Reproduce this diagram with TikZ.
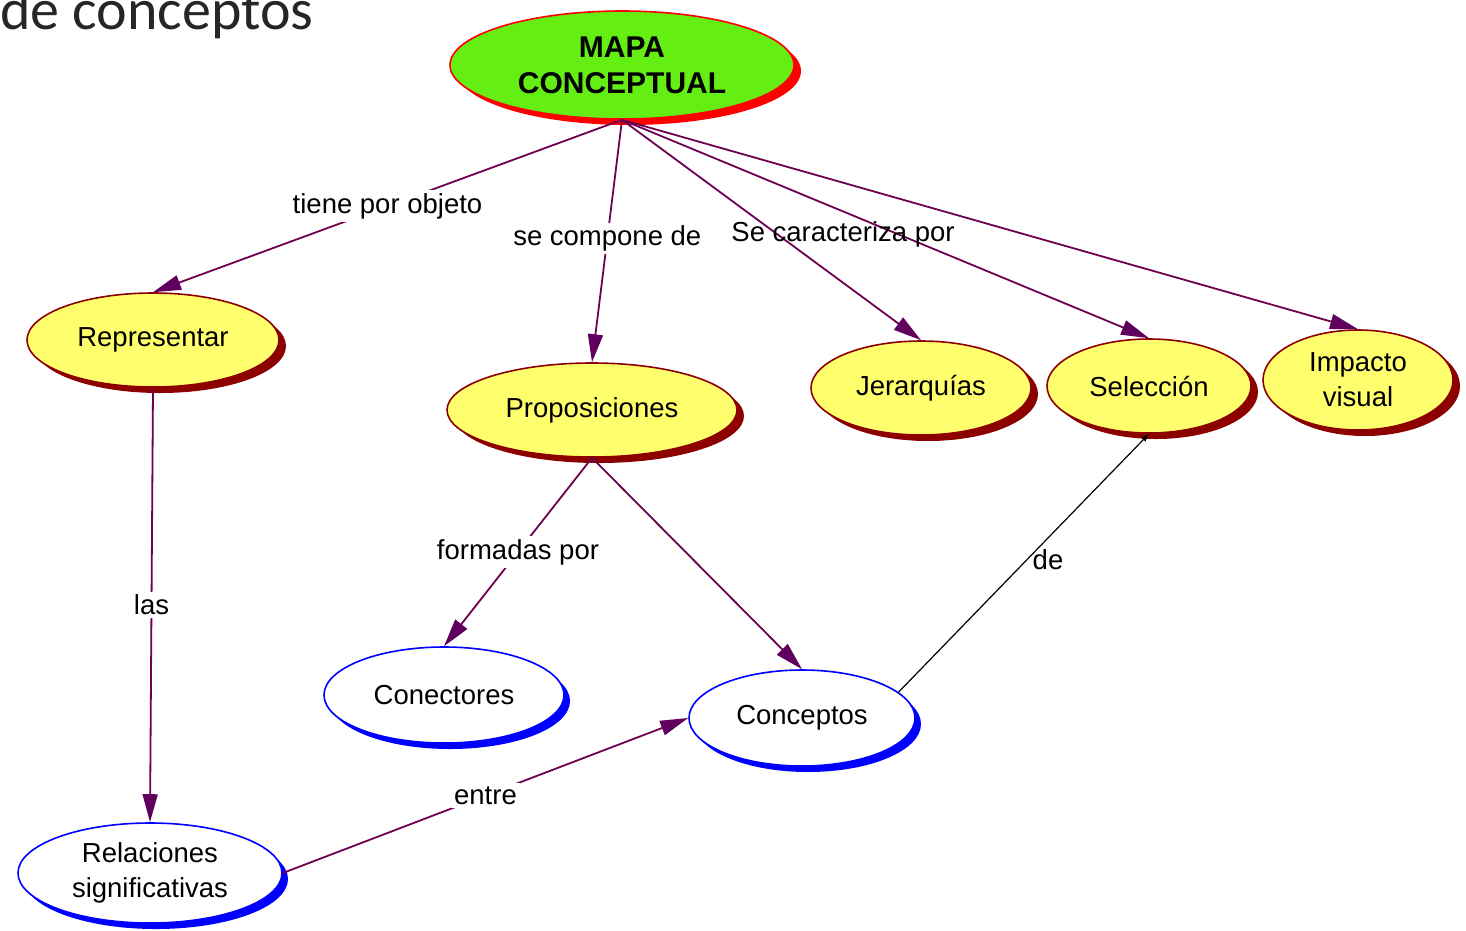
\documentclass[tikz,border=0pt]{standalone}
\usepackage{fontspec}
\setmainfont{Liberation Sans}
\newfontfamily\titlefont{Carlito}
\usetikzlibrary{shadows,arrows.meta,shapes.geometric}
\definecolor{limegreen}{RGB}{100,238,20}
\definecolor{brightred}{RGB}{255,0,0}
\definecolor{paleyellow}{RGB}{255,255,110}
\definecolor{darkred}{RGB}{140,0,0}
\definecolor{pureblue}{RGB}{0,0,255}
\definecolor{edgecol}{RGB}{110,0,80}
\definecolor{tipcol}{RGB}{95,0,95}
\definecolor{titlegray}{RGB}{38,38,38}
\begin{document}
\begin{tikzpicture}[x=1pt,y=-1pt,
  txt/.style={font=\fontsize{27.5}{35}\selectfont, align=center},
  concept/.style={ellipse, inner sep=0pt, line width=1.6pt, txt},
  mainc/.style={concept, fill=limegreen, draw=brightred, font=\bfseries\fontsize{30}{36}\selectfont,
     drop shadow={fill=brightred, opacity=1, shadow xshift=7pt, shadow yshift=-6pt}},
  yellowc/.style={concept, fill=paleyellow, draw=darkred,
     drop shadow={fill=darkred, opacity=1, shadow xshift=7pt, shadow yshift=-6pt}},
  bluec/.style={concept, fill=white, draw=pureblue,
     drop shadow={fill=pureblue, opacity=1, shadow xshift=6pt, shadow yshift=-6pt}},
  conn/.style={draw=edgecol, line width=1.8pt, -{Triangle[length=28pt,width=15pt,fill=tipcol,color=tipcol]}},
  thinconn/.style={draw=black, line width=1.2pt, -{Latex[length=8pt,width=6pt]}},
  lbl/.style={txt, fill=white, inner sep=3pt},
  freelbl/.style={txt, inner sep=0pt}
]
\useasboundingbox (0,0) rectangle (1466,930);
\clip (0,0) rectangle (1466,930);

\node[anchor=base west, font=\titlefont\fontsize{58}{60}\selectfont, text=titlegray, inner sep=0pt] (title) at (0,29) {de conceptos};

\node[mainc, minimum width=344pt, minimum height=108pt] (mapa) at (622,65) {MAPA\\CONCEPTUAL};
\node[yellowc, minimum width=252pt, minimum height=94pt] (rep) at (153,340) {Representar};
\node[yellowc, minimum width=290pt, minimum height=94pt] (prop) at (592,410) {Proposiciones};
\node[yellowc, minimum width=220pt, minimum height=94pt] (jer) at (921,388) {Jerarquías};
\node[yellowc, minimum width=204pt, minimum height=94pt] (sel) at (1149,386) {Selección};
\node[yellowc, minimum width=190pt, minimum height=100pt] (imp) at (1358,380) {Impacto\\visual};
\node[bluec, minimum width=240pt, minimum height=96pt] (con) at (444,695) {Conectores};
\node[bluec, minimum width=226pt, minimum height=96pt] (conc) at (802,718) {Conceptos};
\node[bluec, minimum width=264pt, minimum height=100pt] (rel) at (150,873) {Relaciones\\significativas};

\draw[conn] (mapa.south) -- node[lbl, pos=0.5] {tiene por objeto} (rep.north);
\draw[conn] (mapa.south) -- node[lbl, pos=0.49] {se compone de} (prop.north);
\draw[conn] (mapa.south) -- (jer.north);
\draw[conn] (mapa.south) -- (sel.north);
\draw[conn] (mapa.south) -- (imp.north);
\node[freelbl] (carac) at (843,234) {Se caracteriza por};

\draw[conn] (rep.south) -- node[lbl, pos=0.5] {las} (rel.north);
\draw[conn] (prop.south) -- node[lbl, pos=0.5] {formadas por} (con.north);
\draw[conn] (prop.south) -- (conc.north);
\draw[conn] (rel.east) -- node[lbl, pos=0.5] {entre} (conc.west);
\draw[thinconn] (conc.15) -- (sel.south);
\node[freelbl] (de) at (1048,560) {de};
\end{tikzpicture}
\end{document}
